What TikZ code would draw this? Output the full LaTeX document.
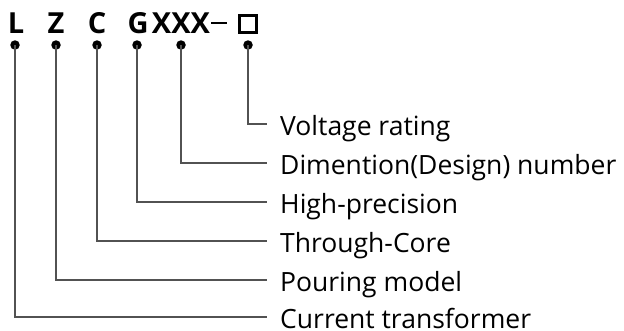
\documentclass[tikz,border=0pt]{standalone}
\usepackage{fontspec}
\setmainfont{Open Sans}
\begin{document}
\begin{tikzpicture}[x=1pt,y=-1pt,
  code/.style={font=\fontsize{29}{31}\selectfont\bfseries, inner sep=0pt, anchor=base},
  dotnode/.style={circle, fill=black, minimum size=9.5pt, inner sep=0pt},
  lbl/.style={font=\fontsize{26.5}{28}\selectfont, anchor=west, inner xsep=13pt, inner ysep=0pt, text height=22pt, text depth=0pt},
  lead/.style={draw=black!68, line width=1.8pt}]
\useasboundingbox (0,0) rectangle (624,330);
% code letters
\node[code] (cL) at (16,33) {L};
\node[code] (cZ) at (56,33) {Z};
\node[code] (cC) at (97,33) {C};
\node[code] (cG) at (138,33) {G};
\node[code] (cX) at (181,33) {XXX};
\node[inner sep=0pt, anchor=base] (cD) at (219,33) {\rule[9pt]{16pt}{2.2pt}};
\node[draw=black, line width=3pt, minimum size=17pt, inner sep=0pt] (cS) at (248,24) {};
% dots
\node[dotnode] (dL) at (15,45) {};
\node[dotnode] (dZ) at (56,45) {};
\node[dotnode] (dC) at (97,45) {};
\node[dotnode] (dG) at (137,45) {};
\node[dotnode] (dX) at (181,45) {};
\node[dotnode] (dS) at (248,45) {};
% labels
\node[lbl] (lS) at (267,124) {Voltage rating};
\node[lbl] (lX) at (267,163) {Dimention(Design) number};
\node[lbl] (lG) at (267,202) {High-precision};
\node[lbl] (lC) at (267,241) {Through-Core};
\node[lbl] (lZ) at (267,280) {Pouring model};
\node[lbl] (lL) at (267,317) {Current transformer};
% leaders
\draw[lead] (dS.center) |- (lS.west);
\draw[lead] (dX.center) |- (lX.west);
\draw[lead] (dG.center) |- (lG.west);
\draw[lead] (dC.center) |- (lC.west);
\draw[lead] (dZ.center) |- (lZ.west);
\draw[lead] (dL.center) |- (lL.west);
\end{tikzpicture}
\end{document}
